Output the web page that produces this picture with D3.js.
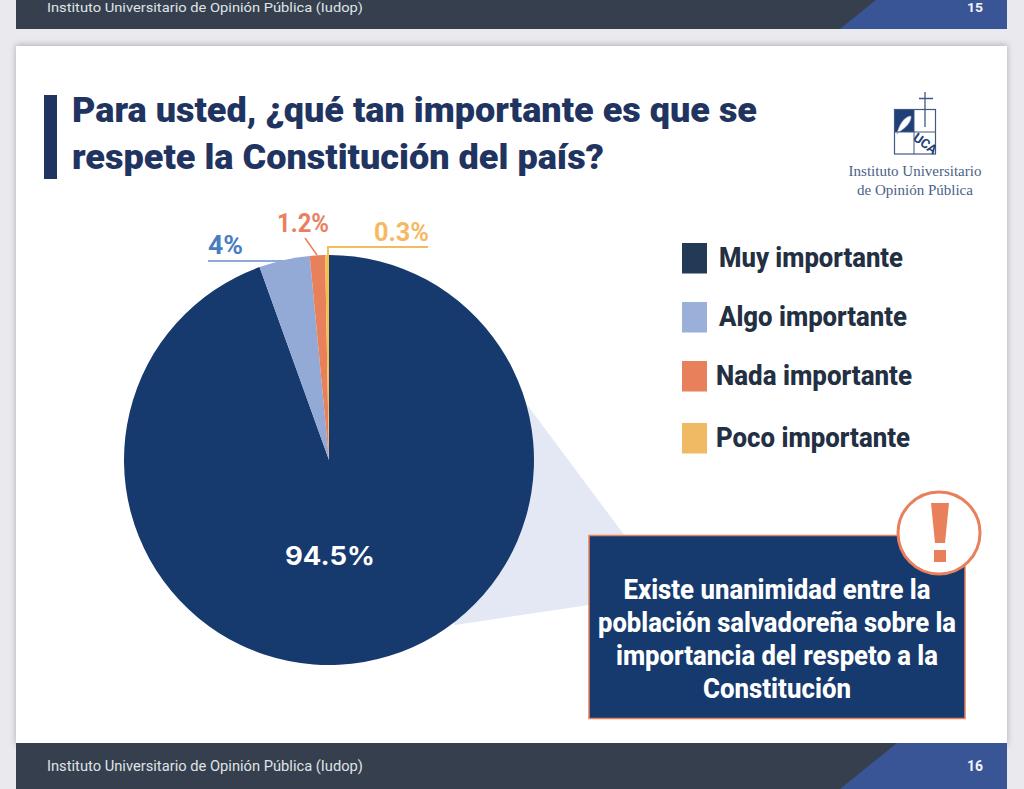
<!DOCTYPE html>
<html>
<head>
<meta charset="utf-8">
<script src="https://cdn.jsdelivr.net/npm/d3@7"></script>
<style>
  html, body { margin: 0; padding: 0; background: #e9e9ee; overflow: hidden; }
  svg { display: block; }
  text { font-family: Roboto, "Liberation Sans", sans-serif; }
</style>
</head>
<body>
<svg id="chart" width="1024" height="789"></svg>
<script>
// values
var categories = ['Muy importante', 'Algo importante', 'Nada importante', 'Poco importante'];
var values = [94.5, 4, 1.2, 0.3];
var valueLabels = ['94.5%', '4%', '1.2%', '0.3%'];

var titleLines = ['Para usted, ¿qué tan importante es que se', 'respete la Constitución del país?'];
var calloutLines = ['Existe unanimidad entre la', 'población salvadoreña sobre la', 'importancia del respeto a la', 'Constitución'];
var logoLines = ['Instituto Universitario', 'de Opinión Pública'];
var footerText = 'Instituto Universitario de Opinión Pública (Iudop)';

var sliceColors = ['#163a6e', '#93a9d6', '#e8805c', '#f5c04a'];
var legendColors = ['#223a55', '#9ab0d8', '#e8805c', '#f0b963'];

var svg = d3.select('#chart');

// squeeze text to the width it has on the slide, the slide font is a condensed one
function fitted(parent, str, x, y, width, size, color, weight) {
  return parent.append('text')
    .attr('x', x).attr('y', y)
    .attr('textLength', width).attr('lengthAdjust', 'spacingAndGlyphs')
    .attr('font-size', size).attr('font-weight', weight || 800)
    .attr('fill', color).text(str);
}

function footer(top, page, size, baseline) {
  var g = svg.append('g');
  g.append('rect').attr('x', 16).attr('y', top).attr('width', 991).attr('height', 46).attr('fill', '#363f4d');
  g.append('path').attr('d', 'M897,' + top + 'L1007,' + top + 'L1007,' + (top + 46) + 'L840,' + (top + 46) + 'Z').attr('fill', '#3a5596');
  fitted(g, footerText, 47, baseline, 316, size, '#dfe3e8', 400);
  fitted(g, page, 967, baseline, 16, size, '#f2f4f8', 700);
}

// slides
svg.append('rect').attr('x', 16).attr('y', 46).attr('width', 991).attr('height', 700).attr('fill', '#fff')
  .style('filter', 'drop-shadow(0 -1px 3px rgba(60,60,70,0.35))');
footer(-17, '15', 13, 12);
footer(743, '16', 14.5, 771);

// title
svg.append('rect').attr('x', 44).attr('y', 95).attr('width', 13).attr('height', 84).attr('fill', '#1f3460');
fitted(svg, titleLines[0], 72, 122, 685, 35, '#1f3460', 900);
fitted(svg, titleLines[1], 72, 169, 532, 35, '#1f3460', 900);

// logo
var logo = svg.append('g').attr('fill', 'none').attr('stroke', '#41597f');
logo.append('rect').attr('x', 894).attr('y', 109).attr('width', 20).attr('height', 23).attr('fill', '#1f3f78').attr('stroke', 'none');
logo.append('path').attr('d', 'M897,134C899,124 905,116 911,116C912,121 906,128 899,132Z').attr('fill', '#fff').attr('stroke', '#8a9bb8').attr('stroke-width', 0.6);
logo.append('rect').attr('x', 894.5).attr('y', 109.5).attr('width', 41).attr('height', 44.5).attr('stroke-width', 1.2);
logo.append('path').attr('d', 'M914,109V154M894,132H935').attr('stroke-width', 1);
logo.append('path').attr('d', 'M925,92V127M919,98.5H933').attr('stroke-width', 1.3);
svg.append('text').attr('x', 925).attr('y', 148).attr('text-anchor', 'middle')
  .attr('font-size', 13).attr('font-weight', 700).attr('fill', '#1f3f78')
  .attr('transform', 'rotate(35 925 144)')
  .style('font-family', '"Liberation Sans Narrow", Roboto').text('UCA');
svg.selectAll('.logo-line').data(logoLines).join('text').attr('class', 'logo-line')
  .attr('x', 915).attr('y', function(d, i) { return 176 + i * 19; })
  .attr('text-anchor', 'middle').attr('font-size', 15).attr('fill', '#4a5f88')
  .style('font-family', '"Liberation Serif", serif').text(function(d) { return d; });

// pale wedge that ties the pie to the callout
svg.append('path').attr('d', 'M329,460L528,406L625,536H589V605L455,625Z').attr('fill', '#e4e8f4');

// pie
var cx = 329, cy = 460, radius = 205;
var pie = d3.pie().sort(null).value(function(d) { return d; });
var arc = d3.arc().innerRadius(0).outerRadius(radius);
var color = d3.scaleOrdinal().domain(categories).range(sliceColors);

svg.append('g').attr('transform', 'translate(' + cx + ',' + cy + ')')
  .selectAll('path').data(pie(values)).join('path')
  .attr('d', arc)
  .attr('fill', function(d, i) { return color(categories[i]); });

// leader lines
svg.append('path').attr('d', 'M208,261H285').attr('fill', 'none').attr('stroke', '#8fa9d8').attr('stroke-width', 2);
svg.append('path').attr('d', 'M305,238L317,255').attr('fill', 'none').attr('stroke', '#e8805c').attr('stroke-width', 1.5);
svg.append('path').attr('d', 'M328,255V247H428').attr('fill', 'none').attr('stroke', '#f2bb60').attr('stroke-width', 2);

// value labels
var labelPos = [[285, 565, 90, 26], [208, 254, 35, 25], [277, 232, 52, 25], [374, 241, 55, 25]];
var labelColors = ['#ffffff', '#4a7cc0', '#e9805f', '#f4b963'];
valueLabels.forEach(function(t, i) {
  var p = labelPos[i];
  var lab = fitted(svg, t, p[0], p[1], p[2], p[3], labelColors[i], 700);
  if (i === 0) lab.style('font-family', 'Inter, sans-serif');
});

// legend
var legendY = d3.scaleOrdinal().domain(categories).range([258, 317, 376, 438]);
var legendText = [[719, 184], [719, 188], [716, 196], [716, 194]];
categories.forEach(function(c, i) {
  var y = legendY(c);
  svg.append('rect').attr('x', 682).attr('y', y - 15).attr('width', 25).attr('height', 30.5).attr('fill', legendColors[i]);
  fitted(svg, c, legendText[i][0], y + 9, legendText[i][1], 28, '#232f42');
});

// callout
svg.append('rect').attr('x', 589).attr('y', 535.5).attr('width', 376).attr('height', 183)
  .attr('fill', '#163a6e').attr('stroke', '#e8805c').attr('stroke-width', 1.5);
var calloutWidth = [307, 358, 322, 148];
var calloutY = d3.scalePoint().domain(calloutLines).range([599, 698]);
calloutLines.forEach(function(t, i) {
  fitted(svg, t, 777 - calloutWidth[i] / 2, calloutY(t), calloutWidth[i], 27, '#ffffff');
});
svg.append('circle').attr('cx', 939).attr('cy', 533).attr('r', 41).attr('fill', '#fff').attr('stroke', '#e8805c').attr('stroke-width', 3);
svg.append('path').attr('d', 'M931,503H949L945,543H935Z').attr('fill', '#e8805c');
svg.append('rect').attr('x', 934).attr('y', 550).attr('width', 12).attr('height', 12).attr('fill', '#e8805c');
</script>
</body>
</html>
